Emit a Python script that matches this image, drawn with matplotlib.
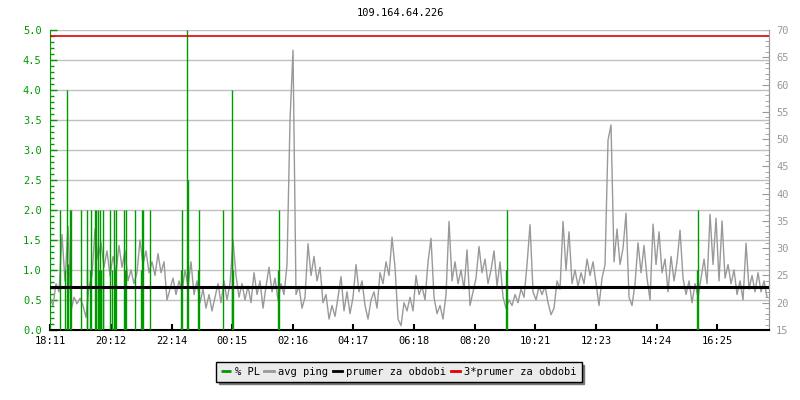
# ping / packet loss chart for one host, last 24 hours
import numpy as np
import matplotlib
matplotlib.use('Agg')
from matplotlib import pyplot as plt
from matplotlib.ticker import MultipleLocator

plt.rcParams['font.family'] = ['DejaVu Sans Mono']
plt.rcParams['font.size'] = 7.5

host = '109.164.64.226'

# avg ping [ms], one sample every 6 minutes starting 18:11
ping = [21.0, 19.5, 23.5, 22.0, 32.5, 24.0, 34.0, 18.5, 21.0, 19.8, 20.8, 19.5, 17.3, 23.0, 25.0, 33.5, 28.0, 31.0, 26.5, 29.5,
        25.0, 28.5, 25.5, 30.5, 26.5, 29.5, 24.0, 26.0, 23.5, 25.5, 31.5, 27.0, 29.5, 25.5, 27.5, 25.0, 29.0, 25.5, 27.5, 20.5,
        22.5, 24.5, 21.5, 24.0, 22.0, 26.0, 23.0, 27.5, 21.5, 24.0, 20.0, 22.5, 19.0, 21.5, 18.5, 21.0, 23.5, 20.0, 24.0, 20.5,
        23.5, 31.5, 25.0, 21.0, 23.5, 20.5, 23.0, 20.0, 25.5, 21.5, 24.0, 19.0, 23.0, 26.5, 22.0, 24.5, 20.5, 23.5, 21.5, 27.0,
        53.5, 66.3, 21.5, 23.0, 19.0, 21.0, 30.8, 25.0, 28.5, 24.0, 26.5, 20.0, 21.5, 17.0, 19.5, 17.5, 21.0, 24.8, 18.5, 22.0,
        18.0, 21.0, 27.0, 22.0, 24.0, 19.5, 17.0, 20.5, 22.0, 19.0, 25.5, 23.5, 27.5, 25.0, 32.0, 26.5, 17.0, 15.8, 20.0, 18.5,
        21.0, 18.5, 25.0, 21.5, 23.0, 20.5, 27.5, 31.8, 21.0, 18.0, 19.5, 17.0, 21.5, 34.9, 24.0, 27.5, 23.5, 26.0, 22.5, 29.7,
        19.5, 22.0, 24.5, 30.3, 25.5, 28.0, 23.5, 26.0, 29.5, 23.0, 27.5, 21.0, 19.0, 20.5, 19.5, 21.5, 20.0, 22.5, 21.0, 27.0,
        34.3, 22.0, 20.5, 23.0, 21.5, 23.0, 20.0, 17.8, 19.0, 24.0, 22.5, 34.9, 26.0, 33.0, 23.5, 26.0, 23.0, 25.5, 23.5, 28.0,
        25.0, 27.5, 23.5, 19.5, 24.5, 27.0, 49.8, 52.6, 27.5, 33.5, 27.0, 30.0, 36.4, 21.0, 19.5, 23.5, 31.0, 25.5, 30.5, 24.5,
        20.5, 34.4, 27.0, 33.0, 25.5, 28.0, 22.0, 28.5, 24.0, 27.5, 33.3, 24.5, 21.5, 24.0, 20.0, 23.5, 21.0, 24.5, 28.0, 23.5,
        36.2, 27.0, 35.5, 24.0, 35.0, 24.5, 27.0, 23.5, 26.0, 21.5, 24.0, 20.5, 30.9, 22.5, 25.0, 22.0, 25.5, 22.0, 24.0, 21.0]
sample_step = 6  # minutes

# packet loss [%], minutes after 18:11 (zero elsewhere)
pl_minutes = [19, 29, 33, 35, 39, 41, 61, 73, 74, 80, 82, 89, 91, 92, 96, 98, 99, 102, 105, 106,
              119, 124, 128, 129, 131, 148, 150, 151, 169, 182, 183, 185, 200, 261, 263, 273, 275,
              296, 297, 346, 363, 364, 365, 456, 457, 911, 913, 1293, 1295]
pl_values = [2.0, 1.0, 4.0, 1.1, 2.0, 2.0, 2.0, 1.0, 2.0, 1.0, 2.0, 2.0, 2.0, 1.0, 2.0, 1.0, 2.0, 1.0, 1.0, 2.0,
             2.0, 1.0, 2.0, 1.0, 2.0, 2.0, 1.0, 2.0, 2.0, 1.0, 2.0, 2.0, 2.0, 1.0, 2.0, 5.0, 2.5,
             1.0, 2.0, 2.0, 4.0, 2.0, 1.0, 1.0, 2.0, 1.0, 2.0, 1.0, 2.0]

ping_avg = 22.95  # prumer za obdobi
start = '18:11'
tick_labels = ['18:11', '20:12', '22:14', '00:15', '02:16', '04:17',
               '06:18', '08:20', '10:21', '12:23', '14:24', '16:25']

green = '#009900'
grey = '#999999'


def to_min(hhmm):
    h, m = hhmm.split(':')
    return int(h) * 60 + int(m)


def ping_to_pl(v):
    return (np.asarray(v) - 15) / 11.0


def pl_to_ping(v):
    return 15 + np.asarray(v) * 11.0


t0 = to_min(start)
tick_pos = [(to_min(s) - t0) % 1440 for s in tick_labels]
minutes = np.arange(len(ping)) * sample_step

fig = plt.figure(figsize=(8, 4), dpi=100)
ax = fig.add_axes([0.0625, 0.175, 0.8988, 0.75])

for y in np.arange(0.5, 5.01, 0.5):
    ax.axhline(y, color='#c0c0c0', lw=1, zorder=1)

l_ping, = ax.plot(minutes, ping_to_pl(ping), color=grey, lw=1, zorder=2, label='avg ping')
l_pl = ax.vlines(pl_minutes, 0, pl_values, color=green, lw=1, zorder=3, label='% PL')
l_avg = ax.axhline(ping_to_pl(ping_avg), color='black', lw=2.2, zorder=4, label='prumer za obdobi')
l_avg3 = ax.axhline(ping_to_pl(3 * ping_avg), color='#e00000', lw=1.2, zorder=4,
                    label='3*prumer za obdobi')

ax.set_xlim(0, 1438)
ax.set_ylim(0, 5)

# left axis: packet loss
ax.yaxis.set_major_locator(MultipleLocator(0.5))
ax.yaxis.set_minor_locator(MultipleLocator(0.1))
ax.yaxis.set_major_formatter('{x:.1f}')
ax.tick_params(axis='y', which='both', direction='in', colors=green, pad=6)
ax.tick_params(axis='y', which='major', length=5, width=1)
ax.tick_params(axis='y', which='minor', length=3, width=1)
ax.spines['left'].set_color(green)

# bottom axis: time
ax.set_xticks(tick_pos, tick_labels)
ax.tick_params(axis='x', direction='in', length=4, width=1.5, colors='black', pad=4)
ax.spines['bottom'].set_linewidth(1.5)
ax.spines['top'].set_visible(False)
ax.spines['right'].set_color(grey)

# right axis: ping in ms
sec = ax.secondary_yaxis('right', functions=(pl_to_ping, ping_to_pl))
sec.set_yticks(range(15, 71, 5))
sec.yaxis.set_minor_locator(MultipleLocator(1))
sec.tick_params(which='both', direction='in', colors=grey, pad=5)
sec.tick_params(which='major', length=5)
sec.tick_params(which='minor', length=3)
sec.spines['right'].set_color(grey)

fig.text(0.5, 1 - 13 / 400, host, ha='center', va='center', color='black')

leg = fig.legend(handles=[l_pl, l_ping, l_avg, l_avg3], loc='center', ncol=4,
                 bbox_to_anchor=(399 / 800, 1 - 372 / 400), frameon=True, fancybox=False,
                 shadow={'color': '#777777', 'alpha': 1}, edgecolor='black',
                 facecolor='#ebebeb', framealpha=1, handlelength=0.9, handletextpad=0.4,
                 columnspacing=0.45, borderpad=0.45)
leg.get_frame().set_linewidth(1)
for h in leg.legend_handles:
    h.set_linewidth(2)

fig.savefig('out.png', dpi=100)
